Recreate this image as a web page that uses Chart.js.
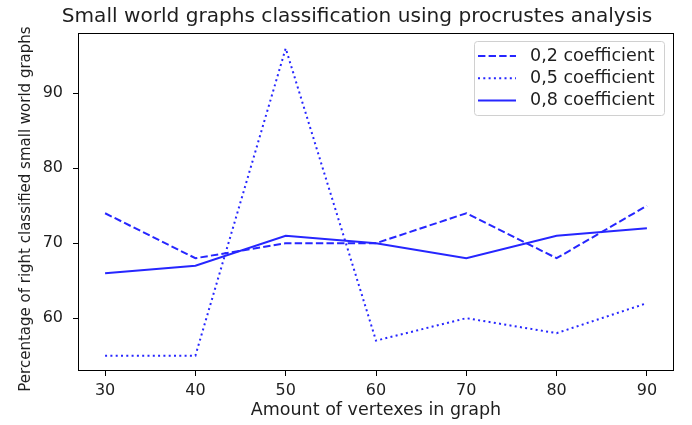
<!DOCTYPE html>
<html>
<head>
<meta charset="utf-8">
<script src="https://cdn.jsdelivr.net/npm/chart.js@4.4.1/dist/chart.umd.min.js"></script>
<style>
  html, body { margin: 0; padding: 0; background: #fff; }
  #contenedor { width: 692px; height: 425px; }
</style>
</head>
<body>
<div id="contenedor"><canvas id="graficoMundos"></canvas></div>
<script>
// Vertices del grafo y porcentaje de clasificacion correcta por coeficiente
const vertices = [30, 40, 50, 60, 70, 80, 90];
const coef02 = [74, 68, 70, 70, 74, 68, 75];
const coef05 = [55, 55, 96, 57, 60, 58, 62];
const coef08 = [66, 67, 71, 70, 68, 71, 72];
const ticksX = [30, 40, 50, 60, 70, 80, 90];
const ticksY = [60, 70, 80, 90];
const etiquetas = ['0,2 coefficient', '0,5 coefficient', '0,8 coefficient'];
const titulo = 'Small world graphs classification using procrustes analysis';
const tituloY = 'Percentage of right classified small world graphs';

const azul = '#2626ff';
const fuente = 'DejaVu Sans';
const colorTexto = '#1e1e1e';

// margen del 5% en cada eje, como hace matplotlib
function limites(valores) {
    const min = Math.min(...valores), max = Math.max(...valores);
    const m = (max - min) * 0.05;
    return [min - m, max + m];
}
const [xMin, xMax] = limites(vertices);
const [yMin, yMax] = limites([...coef02, ...coef05, ...coef08]);

function puntos(serie) {
    return vertices.map((v, i) => ({ x: v, y: serie[i] }));
}

const estilos = [[7.4, 3.2], [2, 3.3], []];
const series = [coef02, coef05, coef08];

// Titulo, etiqueta vertical, marco completo y leyenda con caja
const marcoYLeyenda = {
    id: 'marcoYLeyenda',
    afterDraw(chart) {
        const ctx = chart.ctx;
        const a = chart.chartArea;
        ctx.save();

        ctx.fillStyle = colorTexto;
        ctx.textAlign = 'center';
        ctx.textBaseline = 'middle';
        ctx.font = '20.1px "' + fuente + '"';
        ctx.fillText(titulo, 357, 17);

        ctx.save();
        ctx.translate(26, 209);
        ctx.rotate(-Math.PI / 2);
        ctx.font = '15px "' + fuente + '"';
        ctx.fillText(tituloY, 0, 0);
        ctx.restore();

        ctx.strokeStyle = '#000';
        ctx.lineWidth = 1;
        ctx.setLineDash([]);
        ctx.strokeRect(Math.round(a.left) + 0.5, Math.round(a.top) + 0.5,
            Math.round(a.right - a.left) - 1, Math.round(a.bottom - a.top) - 1);

        const ancho = 190, alto = 74;
        const x0 = Math.round(a.right) - 10 - ancho, y0 = Math.round(a.top) + 8;
        ctx.beginPath();
        ctx.roundRect(x0 + 0.5, y0 + 0.5, ancho, alto, 3);
        ctx.fillStyle = 'rgba(255,255,255,0.85)';
        ctx.fill();
        ctx.strokeStyle = '#d0d0d0';
        ctx.stroke();

        ctx.font = '17.5px "' + fuente + '"';
        ctx.textAlign = 'left';
        ctx.fillStyle = colorTexto;
        chart.data.datasets.forEach((ds, i) => {
            const y = y0 + 15 + i * 22.2;
            ctx.beginPath();
            ctx.setLineDash(ds.borderDash || []);
            ctx.strokeStyle = ds.borderColor;
            ctx.lineWidth = ds.borderWidth;
            ctx.moveTo(x0 + 4, y);
            ctx.lineTo(x0 + 42, y);
            ctx.stroke();
            ctx.setLineDash([]);
            ctx.fillText(ds.label, x0 + 56, y);
        });
        ctx.restore();
    }
};

new Chart(document.getElementById('graficoMundos'), {
    type: 'line',
    data: {
        datasets: series.map((s, i) => ({
            label: etiquetas[i],
            data: puntos(s),
            borderColor: azul,
            borderWidth: 2,
            borderDash: estilos[i],
            pointRadius: 0,
            fill: false,
            tension: 0
        }))
    },
    options: {
        responsive: true,
        maintainAspectRatio: false,
        animation: false,
        layout: { padding: { left: 0, right: 18, top: 33, bottom: 0 } },
        plugins: {
            legend: { display: false },
            tooltip: { enabled: false },
            title: { display: false }
        },
        scales: {
            x: {
                type: 'linear',
                min: xMin,
                max: xMax,
                afterBuildTicks: (s) => { s.ticks = ticksX.map(v => ({ value: v })); },
                afterFit: (s) => { s.height = 54; },
                border: { display: false },
                grid: { drawOnChartArea: false, drawTicks: true, tickLength: 5, color: '#000' },
                ticks: { color: colorTexto, padding: 5, maxRotation: 0,
                    font: { family: fuente, size: 16 } },
                title: {
                    display: true,
                    text: 'Amount of vertexes in graph',
                    color: colorTexto,
                    font: { family: fuente, size: 17.5 },
                    padding: { top: 0, bottom: 4 }
                }
            },
            y: {
                type: 'linear',
                min: yMin,
                max: yMax,
                afterBuildTicks: (s) => { s.ticks = ticksY.map(v => ({ value: v })); },
                afterFit: (s) => { s.width = 78; },
                border: { display: false },
                grid: { drawOnChartArea: false, drawTicks: true, tickLength: 5, color: '#000' },
                ticks: { color: colorTexto, padding: 10,
                    font: { family: fuente, size: 16 } }
            }
        }
    },
    plugins: [marcoYLeyenda]
});
</script>
</body>
</html>
